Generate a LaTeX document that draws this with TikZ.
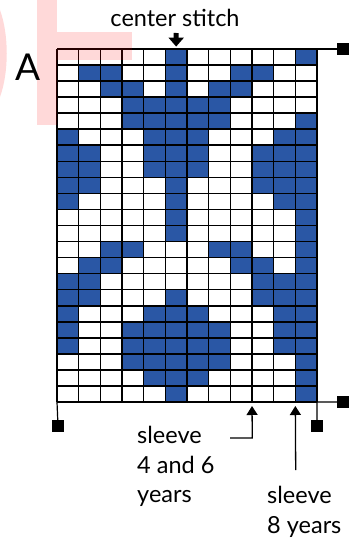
\documentclass[tikz,border=0pt]{standalone}
\usepackage{fontspec}
\setmainfont{Lato}
\definecolor{knitblue}{RGB}{42,87,165}
\usepackage{tikz}
\usetikzlibrary{arrows.meta,positioning}
\tikzset{
  gridline/.style={line width=1.6pt,black},
  endsq/.style={fill=black,inner sep=0,minimum size=12pt},
  lbl/.style={font=\fontsize{23.5}{29.5}\selectfont,inner sep=0,align=left},
  wmark/.style={fill=red,fill opacity=0.15},
  sleevearrow/.style={line width=1.3pt,-{Triangle[width=11pt,length=9pt]}}
}

\begin{document}
\begin{tikzpicture}[x=1pt,y=-1pt]
  \useasboundingbox (0,0) rectangle (353,543);
  % chart: 12 stitches, 22 rows
  \begin{scope}[shift={(57,49)},x=21.667pt,y=-16.045pt]
    \foreach \r/\cols in {1/{6,12},2/{2,3,6,9,10},3/{3,4,6,8,9},4/{4,5,6,7,8},
        5/{4,5,6,7,8,12},6/{1,5,6,7,11,12},7/{1,2,5,6,7,10,11,12},8/{1,2,5,6,7,10,11,12},
        9/{1,2,6,10,11,12},10/{1,6,11,12},11/{6,12},12/{6,12},13/{3,4,8,9,12},
        14/{2,3,9,10,12},15/{1,2,10,11,12},16/{1,2,6,10,11,12},17/{1,5,6,7,11,12},
        18/{1,4,5,6,7,8,11,12},19/{1,4,5,6,7,8,11,12},20/{4,5,6,7,8,12},
        21/{5,6,7,12},22/{6,12}}
      \foreach \c in \cols
        \fill[knitblue] (\c-1,\r-1) rectangle (\c,\r);
    \foreach \c in {0,...,12}
      \draw[gridline] (\c,0) -- (\c,22);
    \foreach \r in {0,...,22}
      \draw[gridline] (0,\r) -- (12,\r);
    \coordinate (gTL) at (0,0);
    \coordinate (gTR) at (12,0);
    \coordinate (gBL) at (0,22);
    \coordinate (gBR) at (12,22);
    \coordinate (gTop) at (5.5,-0.15);
    \coordinate (g46) at (9,22.25);
    \coordinate (g8) at (11,22.25);
  \end{scope}

  % watermark
  \fill[wmark] (0,10) .. controls (9,35) and (9,72) .. (0,97) -- cycle;
  \fill[wmark] (37,0) rectangle (57,125);
  \fill[wmark] (57,32) rectangle (132,60);

  % labels
  \node[lbl,anchor=base] (cstitch) at (175,27) {center stitch};
  \node[font=\fontsize{37}{40}\selectfont,inner sep=0,anchor=base] (chartA) at (28.5,80) {A};
  \node[lbl,anchor=north west] (s46txt) at (137,426) {sleeve\\4 and 6\\years};
  \node[lbl,anchor=north west] (s8txt) at (267,486) {sleeve\\8 years};

  % end markers
  \node[endsq] (sqTR) at (343,49) {};
  \node[endsq] (sqBR) at (343,402) {};
  \node[endsq] (sqBL) at (58,426) {};
  \node[endsq] (sqBRd) at (317,426) {};
  \draw[line width=1.2pt] (gTR) -- (sqTR);
  \draw[line width=1.2pt] (gBR) -- (sqBR);
  \draw[line width=1.2pt] (gBL) -- (sqBL);
  \draw[line width=1.2pt] (gBR) -- (sqBRd);

  % arrows
  \coordinate (ctop) at (176.2,33);
  \draw[line width=5pt,-{Triangle[width=15pt,length=9pt]}] (ctop) -- (gTop);
  \coordinate (s46end) at (230,438);
  \coordinate (s46bend) at (252.3,438);
  \draw[sleevearrow] (s46end) -- (s46bend) -- (g46);
  \coordinate (s8end) at (295.7,470);
  \draw[sleevearrow] (s8end) -- (g8);
\end{tikzpicture}
\end{document}
